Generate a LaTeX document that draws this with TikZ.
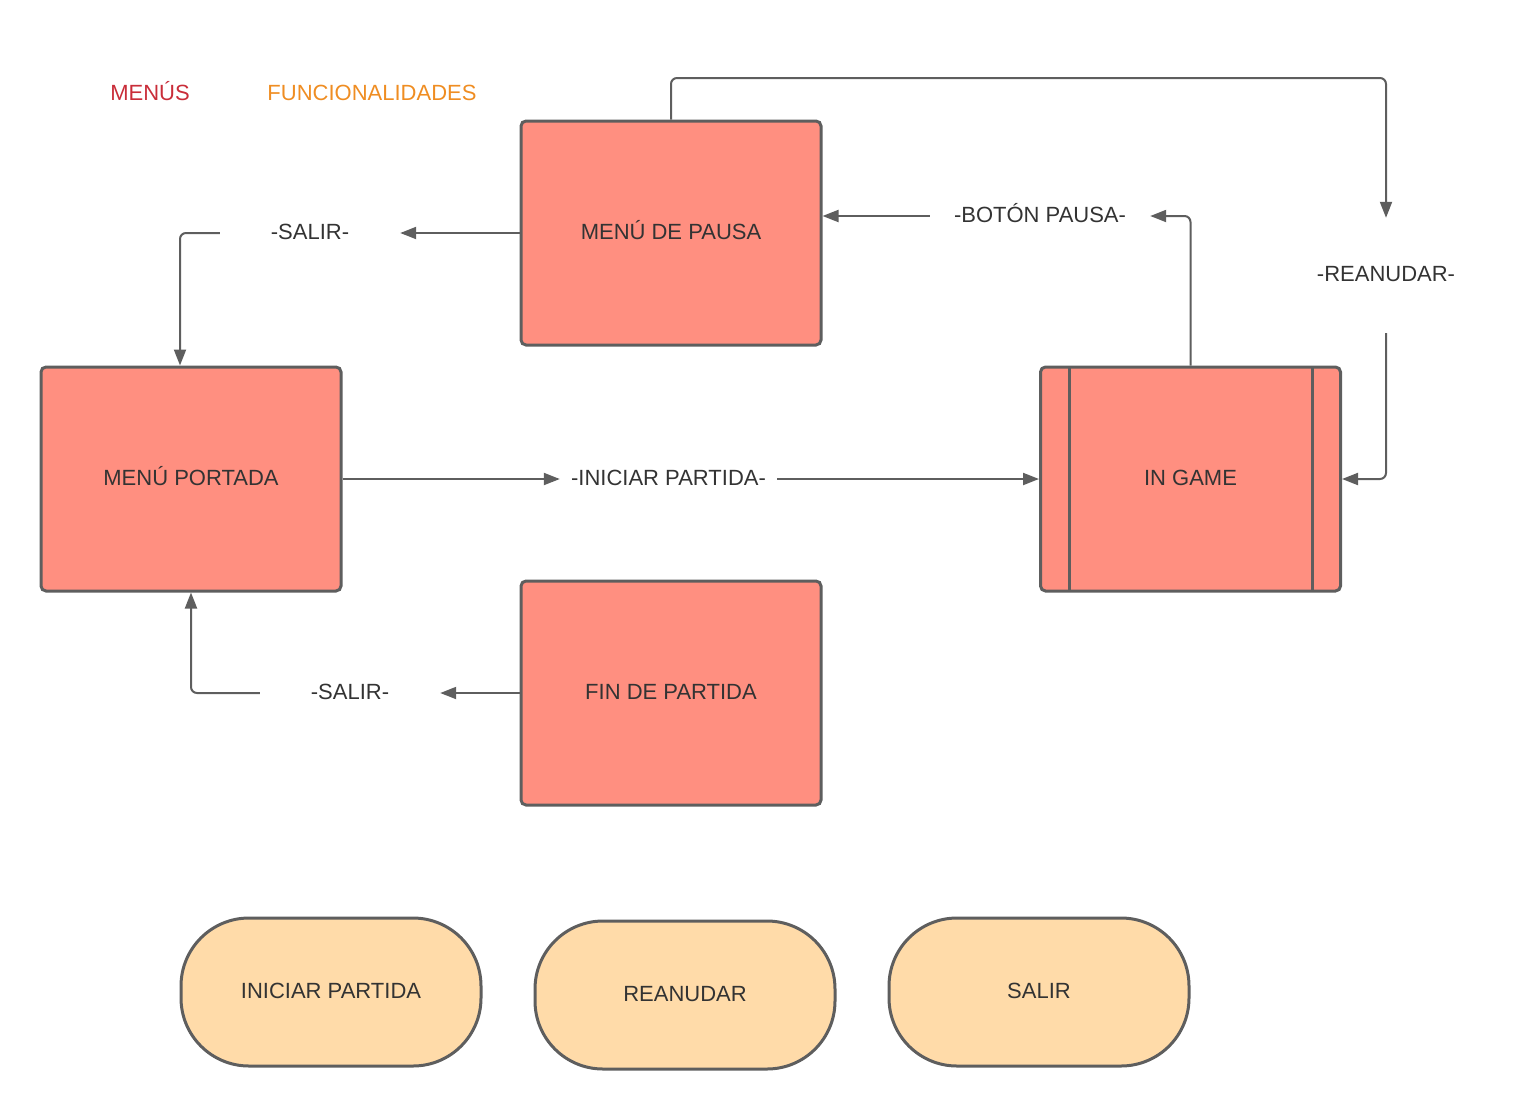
\documentclass[tikz,border=0pt]{standalone}
\usepackage{fontspec}
\setmainfont{Liberation Sans}
\usetikzlibrary{arrows.meta}
\definecolor{boxfill}{HTML}{FF8F80}
\definecolor{pillfill}{HTML}{FFDBA9}
\definecolor{edgecol}{HTML}{5E5E5E}
\definecolor{txt}{HTML}{333333}
\definecolor{menured}{HTML}{C92D39}
\definecolor{funcorange}{HTML}{EF8D22}
\tikzset{
  menubox/.style={draw=edgecol, line width=3pt, fill=boxfill, rounded corners=5pt,
    minimum width=300pt, minimum height=224pt, inner sep=0pt, text height=16pt, text depth=4pt},
  pill/.style={draw=edgecol, line width=3pt, fill=pillfill, rounded corners=68pt,
    minimum width=300pt, minimum height=148pt, inner sep=0pt, text height=16pt, text depth=4pt},
  lbl/.style={inner sep=0pt, text height=16pt, text depth=4pt},
  conn/.style={draw=edgecol, line width=2pt, rounded corners=6pt, -{Triangle[length=16pt,width=12pt]}},
}
\begin{document}
\begin{tikzpicture}[x=1pt, y=-1pt, font=\fontsize{22}{26}\selectfont, text=txt]
\useasboundingbox (0,0) rectangle (1533,1111);
% legend
\node[lbl, text=menured] (legm) at (150,94) {MENÚS};
\node[lbl, text=funcorange] (legf) at (372,94) {FUNCIONALIDADES};
% boxes
\node[menubox] (pausa) at (671,233) {MENÚ DE PAUSA};
\node[menubox] (portada) at (191,479) {MENÚ PORTADA};
\node[menubox] (ingame) at (1190.5,479) {IN GAME};
\draw[edgecol, line width=3pt] ([xshift=30pt,yshift=-1.5pt]ingame.north west) -- ([xshift=30pt,yshift=1.5pt]ingame.south west);
\draw[edgecol, line width=3pt] ([xshift=-30pt,yshift=-1.5pt]ingame.north east) -- ([xshift=-30pt,yshift=1.5pt]ingame.south east);
\node[menubox] (fin) at (671,693) {FIN DE PARTIDA};
% pills
\node[pill] (pini) at (331,992) {INICIAR PARTIDA};
\node[pill] (prea) at (685,995) {REANUDAR};
\node[pill] (psal) at (1039,992) {SALIR};
% connector labels
\node[lbl, minimum width=180pt] (salir1) at (310,233) {-SALIR-};
\node[lbl, minimum width=180pt] (salir2) at (350,693) {-SALIR-};
\node[lbl, minimum width=217pt] (inicia) at (668.5,479) {-INICIAR PARTIDA-};
\node[lbl, minimum width=220pt] (boton) at (1040,216) {-BOTÓN PAUSA-};
\node[lbl, minimum width=150pt, minimum height=115pt] (rean) at (1386,275.5) {-REANUDAR-};
% connectors
\draw[conn] (pausa.north) -- (pausa.north |- 0,78) -| (rean.north);
\draw[conn] (rean.south) |- (ingame.east);
\draw[conn] (ingame.north) |- (boton.east);
\draw[conn] (boton.west) -- (pausa.east |- boton.west);
\draw[conn] (pausa.west) -- (salir1.east);
\draw[conn] (salir1.west) -| ([xshift=-11pt]portada.north);
\draw[conn] (portada.east) -- (inicia.west);
\draw[conn] (inicia.east) -- (ingame.west);
\draw[conn] (fin.west) -- (salir2.east);
\draw[conn] (salir2.west) -| (portada.south);
\end{tikzpicture}
\end{document}
